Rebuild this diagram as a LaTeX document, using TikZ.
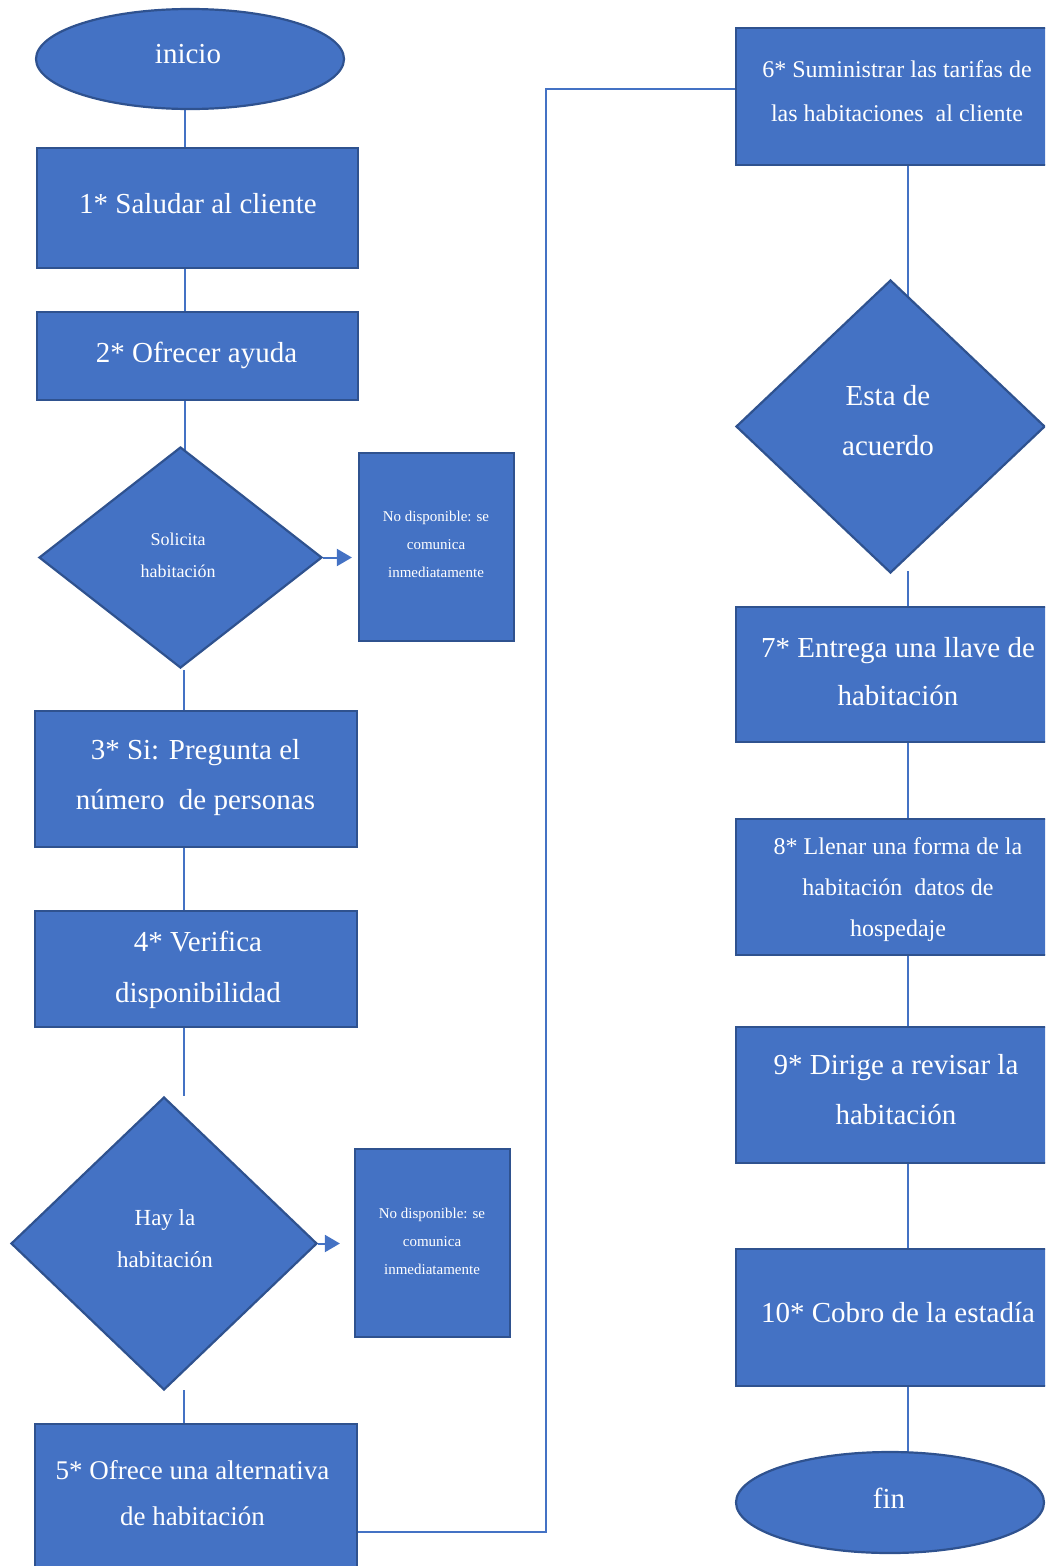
\documentclass[tikz,border=0pt]{standalone}
\usepackage{fontspec}
\setmainfont{Liberation Serif}
\usetikzlibrary{shapes.geometric,arrows.meta,backgrounds}
\definecolor{fillb}{HTML}{4472C4}
\definecolor{edgeb}{HTML}{2F528F}
\definecolor{linkb}{HTML}{4472C4}
\tikzset{
  boxnode/.style={draw=edgeb, fill=fillb, line width=2.2pt, rectangle, inner sep=0pt},
  ovalnode/.style={draw=edgeb, fill=fillb, line width=2.2pt, ellipse, inner sep=0pt},
  decnode/.style={draw=edgeb, fill=fillb, line width=2.2pt, diamond, inner sep=0pt},
  lbl/.style={text=white, align=center, inner sep=0pt},
  link/.style={draw=linkb, line width=1.5pt},
  arr/.style={draw=linkb, line width=2pt, -{Triangle[length=15pt,width=17pt]}},
}
\begin{document}
\begin{tikzpicture}[x=1pt,y=-1pt]
\useasboundingbox (0,0) rectangle (1045,1566);
\clip (0,0) rectangle (1045,1566);

% coordinates for connector columns and free ends
\coordinate (lxa) at (185,0);
\coordinate (lxb) at (184,0);
\coordinate (rx) at (908,0);
\coordinate (e1) at (184,670);
\coordinate (e2) at (184,1096);
\coordinate (e3) at (184,1390);
\coordinate (e4) at (908,571);
\coordinate (j1) at (546,89);

% left column
\node[ovalnode, minimum width=308pt, minimum height=100pt] (ini) at (190,59) {};
\node[lbl, font=\fontsize{29}{35}\selectfont] (tini) at (188,54) {inicio};

\node[boxnode, minimum width=321pt, minimum height=120pt] (b1) at (197.5,208) {};
\node[lbl, font=\fontsize{29}{35}\selectfont] (t1) at (198,204) {1* Saludar al cliente};

\node[boxnode, minimum width=321pt, minimum height=88pt] (b2) at (197.5,356) {};
\node[lbl, font=\fontsize{29}{35}\selectfont] (t2) at (196.5,355) {2* Ofrecer ayuda};

\node[decnode, minimum width=283pt, minimum height=221pt] (d1) at (180.5,557.5) {};
\node[lbl, font=\fontsize{18}{32}\selectfont] (td1) at (178,555) {Solicita\\habitación};

\node[boxnode, minimum width=155pt, minimum height=188pt] (s1) at (436.5,547) {};
\node[lbl, font=\fontsize{15}{28}\selectfont] (ts1) at (436,544) {No disponible: se\\comunica\\inmediatamente};

\node[boxnode, minimum width=322pt, minimum height=136pt] (b3) at (196,779) {};
\node[lbl, font=\fontsize{29}{50}\selectfont] (t3) at (195.5,778) {3* Si: Pregunta el\\número\ \ de personas};

\node[boxnode, minimum width=322pt, minimum height=116pt] (b4) at (196,969) {};
\node[lbl, font=\fontsize{29}{51}\selectfont] (t4) at (198,970) {4* Verifica\\disponibilidad};

\node[decnode, minimum width=306pt, minimum height=293pt] (d2) at (164,1243.5) {};
\node[lbl, font=\fontsize{23}{42}\selectfont] (td2) at (165,1239) {Hay la\\habitación};

\node[boxnode, minimum width=155pt, minimum height=188pt] (s2) at (432.5,1243) {};
\node[lbl, font=\fontsize{15}{28}\selectfont] (ts2) at (432,1241) {No disponible: se\\comunica\\inmediatamente};

\node[boxnode, minimum width=322pt, minimum height=216pt] (b5) at (196,1532) {};
\node[lbl, font=\fontsize{27}{46}\selectfont] (t5) at (192.5,1493) {5* Ofrece una alternativa\\de habitación};

% right column
\node[boxnode, minimum width=322pt, minimum height=137pt] (b6) at (897,96.5) {};
\node[lbl, font=\fontsize{24}{44}\selectfont] (t6) at (897,91) {6* Suministrar las tarifas de\\las habitaciones\ \ al cliente};

\node[decnode, minimum width=309pt, minimum height=293pt] (d3) at (890.5,426.5) {};
\node[lbl, font=\fontsize{29}{50}\selectfont] (td3) at (888,421) {Esta de\\acuerdo};

\node[boxnode, minimum width=322pt, minimum height=135pt] (b7) at (897,674.5) {};
\node[lbl, font=\fontsize{29}{48}\selectfont] (t7) at (898,671.5) {7* Entrega una llave de\\habitación};

\node[boxnode, minimum width=322pt, minimum height=136pt] (b8) at (897,887) {};
\node[lbl, font=\fontsize{24}{41}\selectfont] (t8) at (898,889.5) {8* Llenar una forma de la\\habitación\ \ datos de\\hospedaje};

\node[boxnode, minimum width=322pt, minimum height=136pt] (b9) at (897,1095) {};
\node[lbl, font=\fontsize{29}{50}\selectfont] (t9) at (896,1090) {9* Dirige a revisar la\\habitación};

\node[boxnode, minimum width=322pt, minimum height=137pt] (b10) at (897,1317.5) {};
\node[lbl, font=\fontsize{29}{35}\selectfont] (t10) at (898,1313) {10* Cobro de la estadía};

\node[ovalnode, minimum width=308pt, minimum height=101pt] (fin) at (890,1502.5) {};
\node[lbl, font=\fontsize{29}{35}\selectfont] (tfin) at (889,1498) {fin};

% connectors behind the shapes
\begin{pgfonlayer}{background}
  \draw[link] (ini -| lxa) -- (b1 -| lxa);
  \draw[link] (b1 -| lxa) -- (b2 -| lxa);
  \draw[link] (b2 -| lxa) -- (d1 -| lxa);
  \draw[link] (e1) -- (b3 -| lxb);
  \draw[link] (b3 -| lxb) -- (b4 -| lxb);
  \draw[link] (b4 -| lxb) -- (e2);
  \draw[link] (e3) -- (b5 -| lxb);
  \draw[link] (b5.east) -| (j1) -- (j1 -| b6.west);
  \draw[link] (b6 -| rx) -- (d3 -| rx);
  \draw[link] (e4) -- (b7 -| rx);
  \draw[link] (b7 -| rx) -- (b8 -| rx);
  \draw[link] (b8 -| rx) -- (b9 -| rx);
  \draw[link] (b9 -| rx) -- (b10 -| rx);
  \draw[link] (b10 -| rx) -- (fin -| rx);
\end{pgfonlayer}

% arrows to the side boxes
\draw[arr, shorten >=6pt] (d1.east) -- (d1.east -| s1.west);
\draw[arr, shorten >=14pt] (d2.east) -- (d2.east -| s2.west);
\end{tikzpicture}
\end{document}
